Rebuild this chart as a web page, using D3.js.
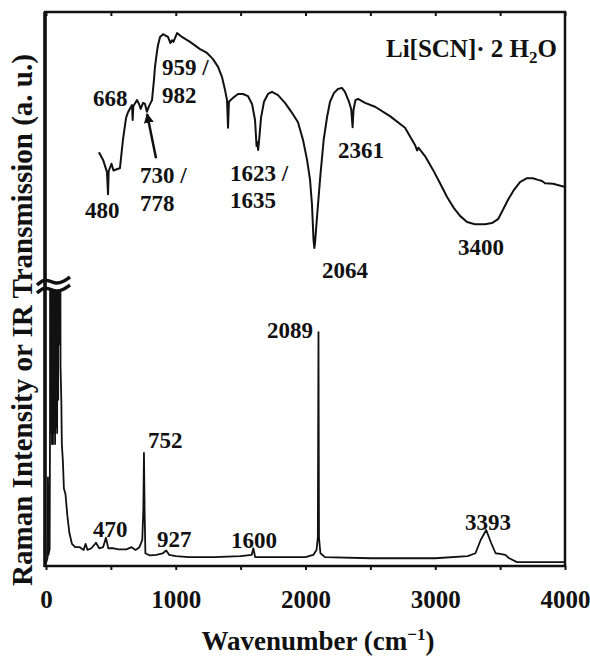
<!DOCTYPE html>
<html>
<head>
<meta charset="utf-8">
<script src="https://cdn.jsdelivr.net/npm/d3@7"></script>
<style>
  body { margin: 0; background: #fff; }
  svg text { font-family: "Liberation Serif", "Times New Roman", serif; font-weight: bold; fill: #111; }
</style>
</head>
<body>
<svg width="590" height="659"></svg>
<script>
// IR transmission (a.u.): [wavenumber, value]
var irSpectrum = [
  [408,74.7],[440,73.3],[470,71.1],[478,67.1],[483,71.3],[505,72.6],[520,71.4],[555,71.7],[570,71.8],
  [593,76.9],[617,80.9],[632,81.9],[655,82.9],[663,83.2],[668,80.5],[673,83.0],[701,84.1],[717,83.4],
  [730,82.5],[748,83.6],[763,83.4],[778,82.0],[794,83.0],[817,84.1],[832,87.7],[840,90.1],[855,92.8],
  [863,94.0],[879,95.5],[902,96.0],[925,95.7],[940,95.5],[959,94.4],[971,94.9],[982,94.6],[1010,96.2],
  [1048,95.5],[1110,94.6],[1187,93.3],[1241,92.6],[1287,91.5],[1326,90.1],[1356,88.3],[1380,85.9],
  [1395,84.1],[1403,79.1],[1410,83.8],[1441,84.5],[1480,85.2],[1518,85.2],[1557,84.8],[1588,83.4],
  [1611,80.5],[1623,75.8],[1630,76.5],[1635,75.1],[1645,77.5],[1657,80.9],[1680,83.8],[1711,85.2],
  [1742,85.6],[1788,85.0],[1842,83.6],[1896,81.8],[1942,80.1],[1981,76.9],[2012,73.3],[2035,69.7],
  [2050,65.2],[2062,58.8],[2068,57.4],[2074,58.5],[2090,63.4],[2115,70.6],[2140,76.9],[2166,81.0],
  [2189,83.8],[2220,85.4],[2250,86.1],[2281,86.3],[2304,85.6],[2335,83.8],[2352,82.5],[2363,79.2],
  [2370,82.3],[2385,84.1],[2405,84.3],[2459,83.6],[2536,82.9],[2651,81.2],[2767,79.1],[2844,76.0],
  [2860,75.0],[2870,75.5],[2921,74.0],[2983,71.5],[3037,69.1],[3091,66.6],[3144,64.6],[3191,63.2],
  [3245,62.1],[3306,61.7],[3383,61.7],[3437,61.9],[3484,62.6],[3522,64.3],[3561,66.1],[3607,67.9],
  [3653,69.3],[3707,70.0],[3753,70.0],[3792,69.7],[3823,69.5],[3846,69.1],[3908,69.0],[4000,68.4]
];

// Raman intensity (a.u.), lower trace; the lattice modes below ~110 go off scale
var ramanSpectrum = [
  [0,0.5],[12,1.5],[15,16],[18,2],[28,3],[31,26],[34,160],[38,24],[42,160],[46,22],[50,160],
  [54,22],[58,160],[62,24],[66,160],[70,22],[74,160],[78,25],[82,160],[86,24],[90,160],[94,30],
  [98,160],[102,40],[106,160],[112,36],[118,30],[122,22],[130,19],[138,14],[150,13],
  [165,9],[180,6],[200,4],[225,3.4],[260,3.4],[290,2.9],[305,4.0],[320,2.9],[350,3.2],[385,4.2],
  [410,3.2],[440,3.4],[462,5.1],[480,3.2],[520,3.2],[560,3.0],[620,3.0],[660,3.4],[690,2.9],
  [720,3.4],[742,4.7],[750,10],[755,20.4],[760,10],[766,2.3],[800,1.9],[850,2.0],[900,2.3],
  [927,2.8],[950,2.0],[1000,1.8],[1100,1.6],[1300,1.6],[1500,1.8],[1585,2.0],[1598,3.2],[1612,1.6],
  [1800,1.6],[2000,1.6],[2060,2.0],[2085,2.9],[2095,5.1],[2100,42.2],[2104,5.1],[2115,2.3],
  [2150,1.6],[2500,1.4],[3000,1.4],[3250,1.8],[3310,2.3],[3350,4.7],[3393,6.5],[3430,4.2],
  [3465,2.3],[3500,2.2],[3540,2.0],[3570,1.4],[3630,0.7],[4000,0.7]
];

var xTicks = [0,500,1000,1500,2000,2500,3000,3500,4000];
var xLabels = [0,1000,2000,3000,4000];

// peak labels: text, anchor wavenumber, anchor value (baseline, left edge)
var peakLabels = [
  ["959 /",894,88.6],["982",894,83.6],["668",362,83.0],["730 /",724,69.1],["778",724,64.1],
  ["480",301,62.8],["1623 /",1418,69.5],["1635",1418,64.6],["2361",2250,73.6],["2064",2127,52.0],
  ["3400",3175,56.1],["2089",1703,41.2],["752",786,21.3],["470",362,5.2],["927",855,3.4],
  ["1600",1426,3.2],["3393",3229,6.5]
];

var breakValue = 50;

var svg = d3.select("svg");
var x = d3.scaleLinear().domain([0, 4000]).range([46, 565]);
var y = d3.scaleLinear().domain([0, 100]).range([566, 12]);

var line = d3.line()
    .x(function(d) { return x(d[0]); })
    .y(function(d) { return y(d[1]); });

svg.append("clipPath").attr("id", "ramanClip")
  .append("rect")
    .attr("x", 45).attr("y", y(breakValue) + 1)
    .attr("width", 520).attr("height", 566 - y(breakValue));

svg.append("path")
    .datum(irSpectrum)
    .attr("fill", "none")
    .attr("stroke", "#111")
    .attr("stroke-width", 2)
    .attr("stroke-linejoin", "round")
    .attr("d", line);

svg.append("path")
    .datum(ramanSpectrum)
    .attr("clip-path", "url(#ramanClip)")
    .attr("fill", "none")
    .attr("stroke", "#111")
    .attr("stroke-width", 1.8)
    .attr("stroke-linejoin", "round")
    .attr("d", line);

// frame
svg.append("rect")
    .attr("x", 45).attr("y", 12)
    .attr("width", 520).attr("height", 554)
    .attr("fill", "none")
    .attr("stroke", "#111")
    .attr("stroke-width", 2.5);
svg.append("line")
    .attr("x1", 45).attr("x2", 45).attr("y1", 12).attr("y2", 567)
    .attr("stroke", "#111").attr("stroke-width", 3.5);

var bottomAxis = svg.append("g")
    .attr("transform", "translate(0,566)")
    .call(d3.axisBottom(x).tickValues(xTicks).tickSize(4).tickSizeOuter(0)
      .tickFormat(function(d) { return xLabels.indexOf(d) >= 0 ? d : ""; }));
bottomAxis.select(".domain").remove();
bottomAxis.selectAll("line").attr("stroke", "#111").attr("stroke-width", 2);
bottomAxis.selectAll("text")
    .attr("y", 42).attr("dy", 0)
    .style("font-size", "25px")
    .attr("fill", "#111");

var topAxis = svg.append("g")
    .attr("transform", "translate(0,12)")
    .call(d3.axisBottom(x).tickValues(xTicks).tickSize(4).tickSizeOuter(0).tickFormat(""));
topAxis.select(".domain").remove();
topAxis.selectAll("line").attr("stroke", "#111").attr("stroke-width", 2);

// axis break mark
var bx = 37, by = y(breakValue);
var tilde = d3.line().curve(d3.curveBasis);
[-8, 0].forEach(function(off) {
  svg.append("path")
      .attr("d", tilde([[bx, by + off + 4], [bx + 8, by + off - 3], [bx + 18, by + off + 3], [bx + 26, by + off + 1], [bx + 33, by + off - 4]]))
      .attr("fill", "none")
      .attr("stroke", "#111")
      .attr("stroke-width", 3.5);
});

// peak labels
svg.append("g").selectAll("text")
  .data(peakLabels)
  .enter().append("text")
    .attr("x", function(d) { return x(d[1]); })
    .attr("y", function(d) { return y(d[2]); })
    .style("font-size", "23px")
    .text(function(d) { return d[0]; });

// arrow to 730/778
svg.append("defs").append("marker")
    .attr("id", "head")
    .attr("viewBox", "0 0 10 10")
    .attr("refX", 9).attr("refY", 5)
    .attr("markerWidth", 4).attr("markerHeight", 4)
    .attr("orient", "auto")
  .append("path").attr("d", "M0,0L10,5L0,10z").attr("fill", "#111");
svg.append("line")
    .attr("x1", x(848)).attr("y1", y(73.6))
    .attr("x2", x(779)).attr("y2", y(81.6))
    .attr("stroke", "#111").attr("stroke-width", 2.5)
    .attr("marker-end", "url(#head)");

// compound label
var title = svg.append("text")
    .attr("x", 557).attr("y", 57)
    .attr("text-anchor", "end")
    .style("font-size", "25px");
title.append("tspan").text("Li[SCN]\u00b7 2 H");
title.append("tspan").attr("dy", 6).style("font-size", "17px").text("2");
title.append("tspan").attr("dy", -6).text("O");

// axis titles
var xt = svg.append("text")
    .attr("x", 318).attr("y", 650)
    .attr("text-anchor", "middle")
    .style("font-size", "27px");
xt.append("tspan").text("Wavenumber (cm");
xt.append("tspan").attr("dy", -10).style("font-size", "17px").text("\u22121");
xt.append("tspan").attr("dy", 10).text(")");

svg.append("text")
    .attr("transform", "translate(32,320) rotate(-90)")
    .attr("text-anchor", "middle")
    .style("font-size", "29px")
    .text("Raman Intensity or IR Transmission (a. u.)");
</script>
</body>
</html>
